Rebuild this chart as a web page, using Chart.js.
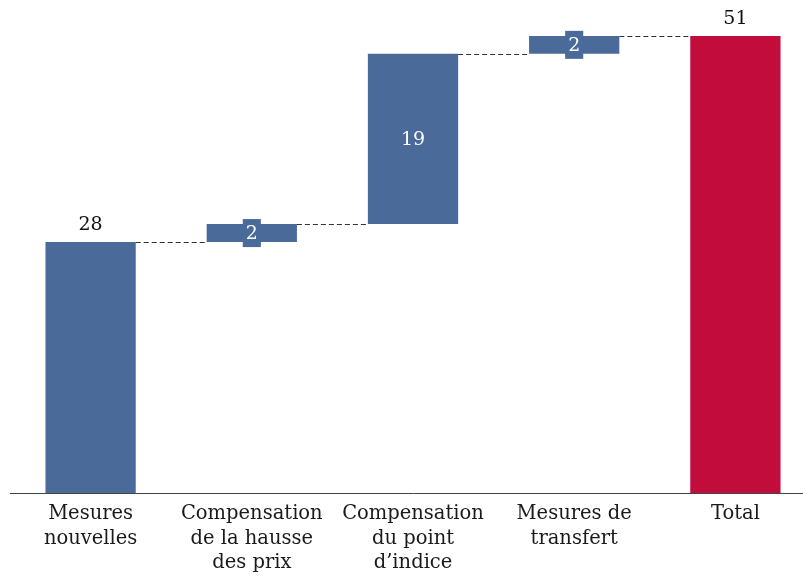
<!DOCTYPE html>
<html>
<head>
<meta charset="utf-8">
<script src="https://cdn.jsdelivr.net/npm/chart.js@4/dist/chart.umd.min.js"></script>
<style>
  html, body { margin: 0; padding: 0; background: #fff; overflow: hidden; }
  #wrap { position: relative; width: 816px; height: 578px; }
</style>
</head>
<body>
<div id="wrap"><canvas id="c"></canvas></div>
<script>
// Waterfall: contributions to the total, in the order they are stacked
const categories = [
  ['Mesures', 'nouvelles'],
  ['Compensation', 'de la hausse', 'des prix'],
  ['Compensation', 'du point', 'd\u2019indice'],
  ['Mesures de', 'transfert'],
  'Total'
];
const steps = [28, 2, 19, 2];
const total = 51;
const stepLabels = ['28', '2', '19', '2'];
const totalLabel = '51';

const BLUE = '#4a6a9a';
const RED = '#c20c3c';
const FONT = '"DejaVu Serif", serif';

// floating ranges built from the running sum
const ranges = [];
let run = 0;
steps.forEach(v => { ranges.push([run, run + v]); run += v; });
ranges.push([0, total]);
const labels = stepLabels.concat([totalLabel]);
const colors = steps.map(() => BLUE).concat([RED]);

const waterfallPlugin = {
  id: 'waterfall',
  afterDatasetsDraw(chart) {
    const ctx = chart.ctx;
    const meta = chart.getDatasetMeta(0);
    const y = chart.scales.y;
    const bars = meta.data;
    // dashed connectors between consecutive bars
    ctx.save();
    ctx.strokeStyle = '#333';
    ctx.lineWidth = 1;
    ctx.setLineDash([5, 3]);
    for (let i = 0; i < bars.length - 1; i++) {
      const level = ranges[i][1];
      const py = Math.round(y.getPixelForValue(level)) + 0.5;
      const x1 = bars[i].x + bars[i].width / 2;
      const x2 = bars[i + 1].x - bars[i + 1].width / 2;
      ctx.beginPath();
      ctx.moveTo(x1, py);
      ctx.lineTo(x2, py);
      ctx.stroke();
    }
    ctx.restore();

    // value labels
    ctx.save();
    ctx.font = '19px ' + FONT;
    ctx.textAlign = 'center';
    ctx.textBaseline = 'middle';
    bars.forEach((bar, i) => {
      const top = y.getPixelForValue(ranges[i][1]);
      const bottom = y.getPixelForValue(ranges[i][0]);
      const h = bottom - top;
      const txt = labels[i];
      if (i === 0 || i === bars.length - 1) {
        ctx.fillStyle = '#111';
        ctx.fillText(txt, bar.x, top - 17);
      } else {
        const cy = (top + bottom) / 2;
        if (h < 26) {
          const w = ctx.measureText(txt).width + 6;
          ctx.fillStyle = BLUE;
          ctx.fillRect(bar.x - w / 2, cy - 14, w, 28);
        }
        ctx.fillStyle = '#fff';
        ctx.fillText(txt, bar.x, cy + 1);
      }
    });
    ctx.restore();
  }
};

new Chart(document.getElementById('c'), {
  type: 'bar',
  data: {
    labels: categories,
    datasets: [{
      data: ranges,
      backgroundColor: colors,
      borderWidth: 0,
      borderSkipped: false,
      barPercentage: 0.8,
      categoryPercentage: 0.7
    }]
  },
  options: {
    responsive: true,
    maintainAspectRatio: false,
    animation: false,
    layout: { padding: { left: 10, right: 0, top: 9, bottom: 0 } },
    plugins: { legend: { display: false }, tooltip: { enabled: false } },
    scales: {
      x: {
        grid: { display: false, drawTicks: false },
        border: { display: true, color: '#444', width: 1 },
        afterFit(scale) { scale.height = 85; },
        ticks: {
          color: '#1a1a1a',
          font: { family: FONT, size: 19.5, lineHeight: 1.28 },
          padding: 8,
          maxRotation: 0,
          autoSkip: false
        }
      },
      y: {
        display: false,
        min: 0,
        max: 54
      }
    }
  },
  plugins: [waterfallPlugin]
});
</script>
</body>
</html>
